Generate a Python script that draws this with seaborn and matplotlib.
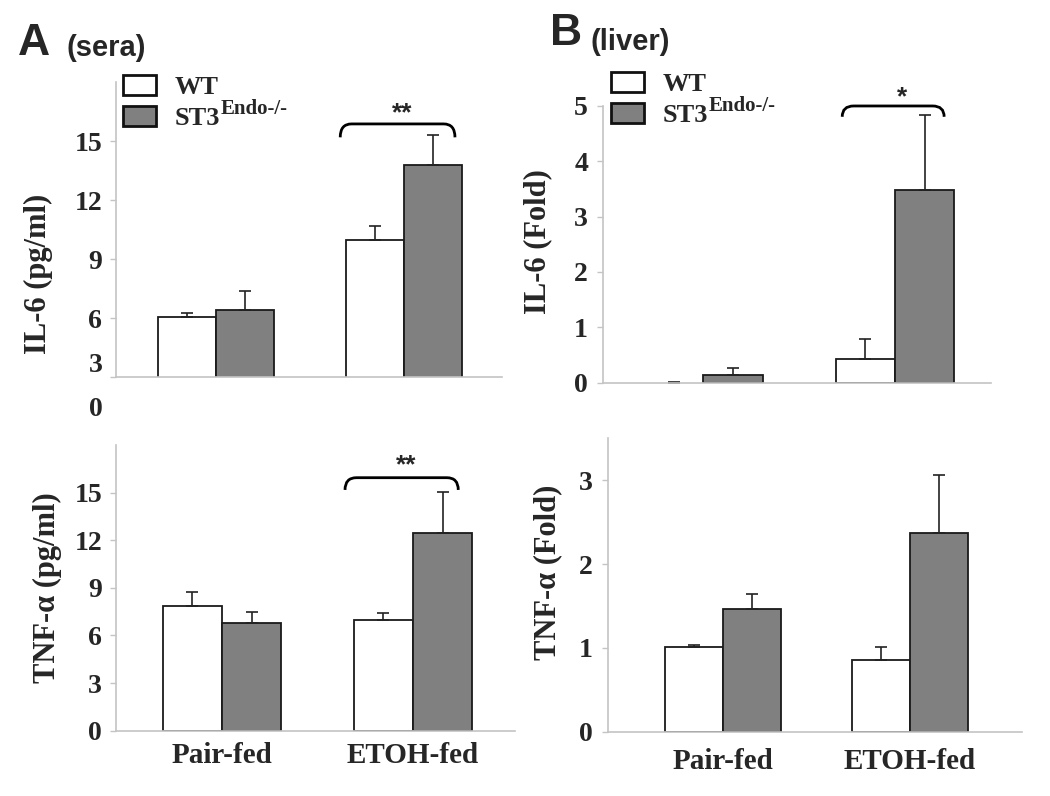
import matplotlib
matplotlib.use("Agg")
import pandas as pd
import seaborn as sns
from matplotlib import pyplot as plt
from matplotlib import transforms
from matplotlib.container import BarContainer
from matplotlib.path import Path
from matplotlib.patches import PathPatch

groups = ["Pair-fed", "ETOH-fed"]
genotypes = ["WT", "ST3"]
colors = {"WT": "white", "ST3": "#808080"}

# values per genotype, order = groups
il6_sera_wt = [6.06, 9.96]
il6_sera_ko = [6.41, 13.80]
il6_sera_wt_err = [0.20, 0.71]
il6_sera_ko_err = [0.96, 1.53]

tnf_sera_wt = [7.84, 6.96]
tnf_sera_ko = [6.77, 12.48]
tnf_sera_wt_err = [0.88, 0.48]
tnf_sera_ko_err = [0.73, 2.56]

il6_liver_wt = [0.0, 0.43]
il6_liver_ko = [0.14, 3.47]
il6_liver_wt_err = [0.02, 0.36]
il6_liver_ko_err = [0.13, 1.37]

tnf_liver_wt = [1.01, 0.86]
tnf_liver_ko = [1.46, 2.37]
tnf_liver_wt_err = [0.03, 0.15]
tnf_liver_ko_err = [0.18, 0.69]

sera_ticks = [3, 6, 9, 12, 15]
sera_tick_labels = ["3", "6", "9", "12", "15"]
tnf_sera_ticks = [0, 3, 6, 9, 12, 15]
il6_liver_ticks = [0, 1, 2, 3, 4, 5]
tnf_liver_ticks = [0, 1, 2, 3]

sns.set_theme(style="white")
plt.rcParams["font.family"] = ["Liberation Serif", "DejaVu Serif"]
plt.rcParams["font.weight"] = "bold"
plt.rcParams["axes.labelweight"] = "bold"

W, H = 1050, 796
fig = plt.figure(figsize=(W / 100, H / 100), dpi=100)


def rect(x0, y0, x1, y1):
    # pixel box -> figure fraction
    return [x0 / W, 1 - y1 / H, (x1 - x0) / W, (y1 - y0) / H]


def make_df(wt, ko):
    rows = []
    for g, v in zip(groups, wt):
        rows.append({"group": g, "genotype": "WT", "value": v})
    for g, v in zip(groups, ko):
        rows.append({"group": g, "genotype": "ST3", "value": v})
    return pd.DataFrame(rows)


def bars_of(ax):
    return [c for c in ax.containers if isinstance(c, BarContainer)]


def panel(box, wt, ko, wt_err, ko_err, ylim, xlim, ticks, ylabel, label_xy, xlabels, pad):
    ax = fig.add_axes(rect(*box))
    df = make_df(wt, ko)
    sns.barplot(data=df, x="group", y="value", hue="genotype", order=groups,
                hue_order=genotypes, palette=colors, width=0.62, gap=0,
                edgecolor="#1a1a1a", linewidth=1.3, errorbar=None, legend=False, ax=ax)
    for cont, errs in zip(bars_of(ax), [wt_err, ko_err]):
        for bar, e in zip(cont, errs):
            x = bar.get_x() + bar.get_width() / 2
            ax.errorbar(x, bar.get_height(), yerr=[[0], [e]], fmt="none", ecolor="#222222",
                        elinewidth=1.2, capsize=4.3, capthick=1.2, zorder=1)
    ax.set_ylim(*ylim)
    ax.set_xlim(*xlim)
    ax.set_yticks(ticks)
    ax.set_xlabel("")
    ax.set_ylabel(ylabel, fontsize=22)
    ax.yaxis.set_label_coords(*label_xy)
    for s in ["top", "right"]:
        ax.spines[s].set_visible(False)
    for s in ["left", "bottom"]:
        ax.spines[s].set_color("#c4c4c4")
        ax.spines[s].set_linewidth(1.2)
    ax.tick_params(axis="y", direction="out", length=4, width=1, color="#c4c4c4",
                   labelsize=20, pad=pad, left=True)
    ax.tick_params(axis="x", length=0, labelsize=21, pad=8)
    if not xlabels:
        ax.set_xticklabels([])
    return ax


def bracket(ax, x0, x1, yb, yt, dx, star, sx, sy):
    verts = [(x0, yb), (x0, yt), (x0 + dx, yt), (x1 - dx, yt), (x1, yt), (x1, yb)]
    codes = [Path.MOVETO, Path.CURVE3, Path.CURVE3, Path.LINETO, Path.CURVE3, Path.CURVE3]
    ax.add_patch(PathPatch(Path(verts, codes), fill=False, lw=2, color="black", clip_on=False))
    ax.text(sx, sy, star, ha="center", va="center", fontsize=19, fontweight="bold",
            family="Liberation Sans", clip_on=False)


# A top: IL-6 sera
ax1 = panel((116, 82, 502, 377.3), il6_sera_wt, il6_sera_ko, il6_sera_wt_err, il6_sera_ko_err,
            (3, 18), (-0.532, 1.52), sera_ticks, "IL-6 (pg/ml)", (-0.163, 0.35), False, 6)
ax1.set_yticklabels([""] + sera_tick_labels[1:])
tr = transforms.blended_transform_factory(ax1.transAxes, ax1.transData)
ax1.text(-0.034, 3.62, sera_tick_labels[0], transform=tr, ha="right", va="center", fontsize=20)
ax1.text(-0.034, 1.34, "0", transform=tr, ha="right", va="center", fontsize=20, clip_on=False)
bracket(ax1, 0.66, 1.27, 15.19, 15.87, 0.06, "**", 0.99, 16.4)

# A bottom: TNF sera
ax2 = panel((116, 445, 515, 730.7), tnf_sera_wt, tnf_sera_ko, tnf_sera_wt_err, tnf_sera_ko_err,
            (0, 18), (-0.555, 1.534), tnf_sera_ticks, "TNF-α (pg/ml)", (-0.135, 0.5), True, 6)
bracket(ax2, 0.644, 1.237, 15.17, 15.94, 0.06, "**", 0.963, 16.74)

# B top: IL-6 liver
ax3 = panel((603.3, 105.7, 990.7, 382.7), il6_liver_wt, il6_liver_ko, il6_liver_wt_err,
            il6_liver_ko_err, (0, 5), (-0.522, 1.5), il6_liver_ticks, "IL-6 (Fold)",
            (-0.132, 0.508), False, 7)
bracket(ax3, 0.725, 1.257, 4.80, 4.995, 0.06, "*", 1.036, 5.16)

# B bottom: TNF liver
ax4 = panel((607.7, 438.3, 1021.7, 731.7), tnf_liver_wt, tnf_liver_ko, tnf_liver_wt_err,
            tnf_liver_ko_err, (0, 3.5), (-0.619, 1.598), tnf_liver_ticks, "TNF-α (Fold)",
            (-0.11, 0.544), True, 7)
ax4.tick_params(axis="x", pad=12)

# legends
legs = []
for ax, (lx, ly) in [(ax1, (123, 75)), (ax3, (611, 72))]:
    handles = [c.patches[-1] for c in bars_of(ax)]
    leg = ax.legend(handles, ["WT", "ST3"], loc="upper left", bbox_to_anchor=(lx / W, 1 - ly / H),
                    bbox_transform=fig.transFigure, frameon=False, borderpad=0, borderaxespad=0,
                    handlelength=1.25, handleheight=0.78, handletextpad=0.7, labelspacing=0.25,
                    prop={"family": "Liberation Serif", "weight": "bold", "size": 19})
    for h in leg.legend_handles:
        h.set_linewidth(2)
        h.set_edgecolor("#111111")
    legs.append(leg)

# the empty WT pair-fed liver bar shows no outline
for cont in bars_of(ax3):
    for p in cont:
        if p.get_height() == 0:
            p.set_linewidth(0)

# titles
fig.text(18 / W, 1 - 55 / H, "A", family="Liberation Sans", fontweight="bold", fontsize=32, va="baseline")
fig.text(67 / W, 1 - 56 / H, "(sera)", family="Liberation Sans", fontweight="bold", fontsize=21, va="baseline")
fig.text(550 / W, 1 - 45 / H, "B", family="Liberation Sans", fontweight="bold", fontsize=32, va="baseline")
fig.text(590 / W, 1 - 50 / H, "(liver)", family="Liberation Sans", fontweight="bold", fontsize=21, va="baseline")

# superscript on the knockout label
fig.canvas.draw()
for leg in legs:
    t = leg.get_texts()[1]
    bb = t.get_window_extent()
    fig.text(bb.x1 + 1, bb.y0 + 0.22 * 19 * 100 / 72 + 10, "Endo-/-", transform=None,
             fontsize=15, fontweight="bold", va="baseline")

plt.savefig("out.png", dpi=100)
